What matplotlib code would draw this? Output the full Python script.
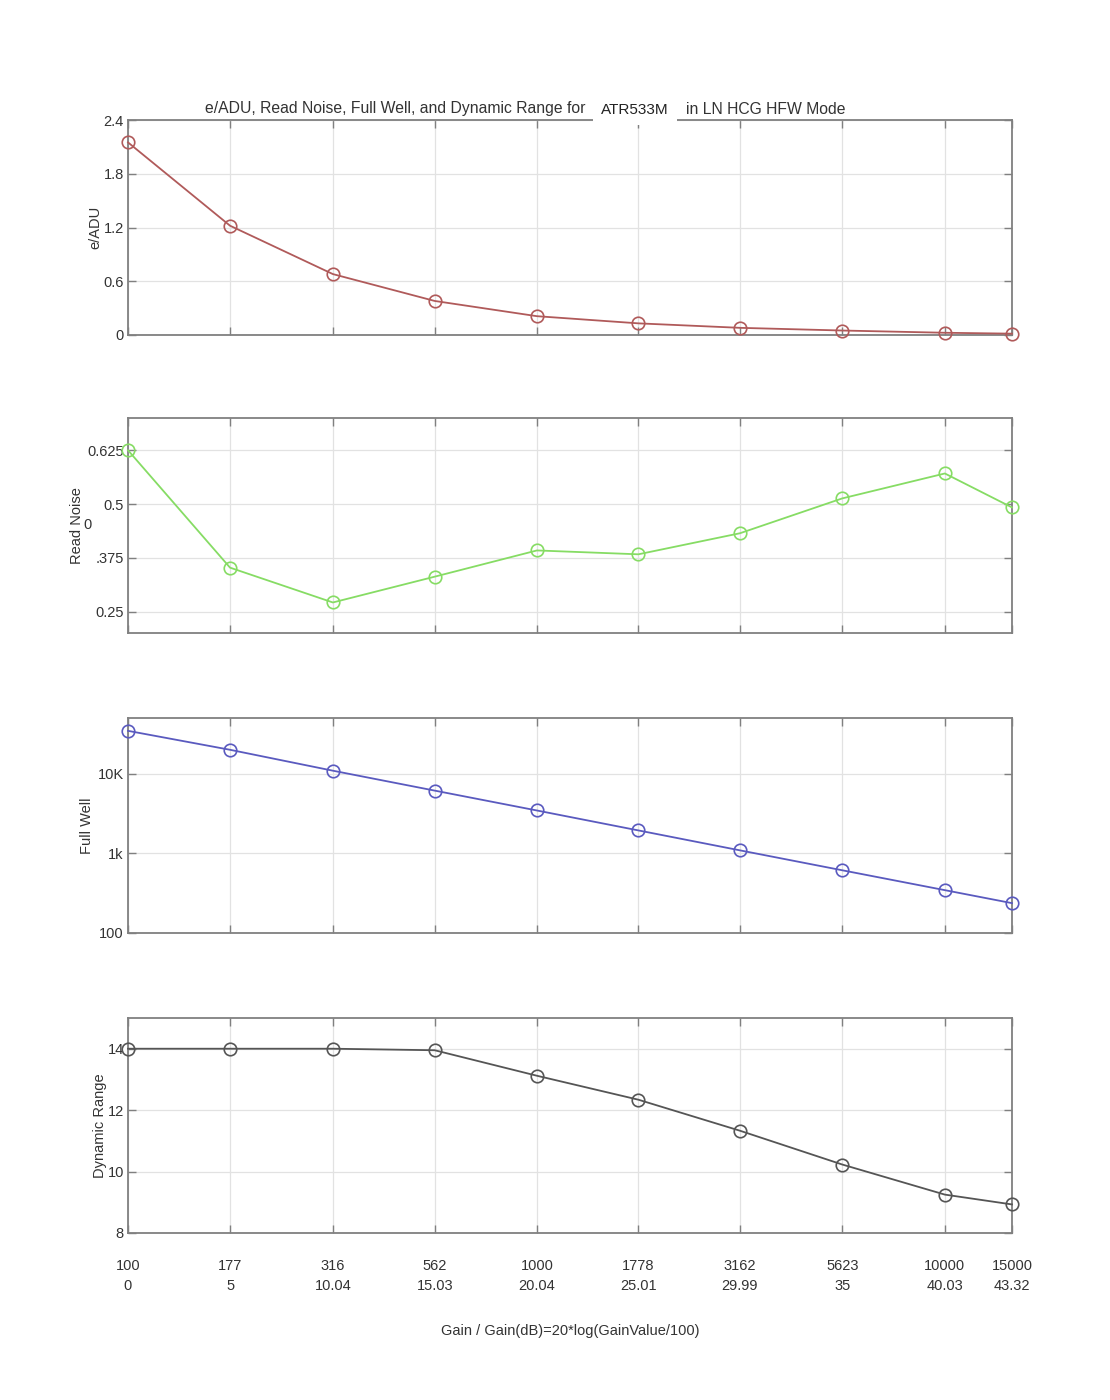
import matplotlib
matplotlib.use("Agg")
import matplotlib.pyplot as plt
from matplotlib.ticker import FixedLocator, NullLocator

plt.rcParams['font.family'] = ['Liberation Sans', 'DejaVu Sans']

gain_values = ["100", "177", "316", "562", "1000", "1778", "3162", "5623", "10000", "15000"]
gain_db = [0, 5, 10.04, 15.03, 20.04, 25.01, 29.99, 35, 40.03, 43.32]
gain_db_labels = ["0", "5", "10.04", "15.03", "20.04", "25.01", "29.99", "35", "40.03", "43.32"]

e_per_adu = [2.15, 1.22, 0.68, 0.38, 0.21, 0.13, 0.08, 0.05, 0.025, 0.015]
read_noise = [0.625, 0.352, 0.271, 0.331, 0.392, 0.383, 0.432, 0.513, 0.571, 0.492]
full_well = [34500, 19950, 10900, 6130, 3450, 1940, 1090, 613, 345, 237]
dynamic_range = [14.0, 14.0, 14.0, 13.95, 13.12, 12.34, 11.33, 10.23, 9.25, 8.93]

panels = [
    dict(y=e_per_adu, color="#b05a5a", label="e/ADU", ylim=(0, 2.4),
         ticks=[0, 0.6, 1.2, 1.8, 2.4], ticklabels=["0", "0.6", "1.2", "1.8", "2.4"],
         log=False, top=120, lx=-0.029),
    dict(y=read_noise, color="#86dc64", label="Read Noise", ylim=(0.2, 0.7),
         ticks=[0.25, 0.375, 0.5, 0.625], ticklabels=["0.25", ".375", "0.5", "0.625"],
         log=False, top=418, lx=-0.050),
    dict(y=full_well, color="#5a5abf", label="Full Well", ylim=(100, 50000),
         ticks=[100, 1000, 10000], ticklabels=["100", "1k", "10K"],
         log=True, top=718, lx=-0.038),
    dict(y=dynamic_range, color="#555555", label="Dynamic Range", ylim=(8, 15),
         ticks=[8, 10, 12, 14], ticklabels=["8", "10", "12", "14"],
         log=False, top=1018, lx=-0.024),
]

W, H = 1110, 1400
fig = plt.figure(figsize=(W / 100, H / 100), dpi=100)
left_px, right_px, h_px = 128, 1012, 215

for i, p in enumerate(panels):
    ax = fig.add_axes([left_px / W, 1 - (p["top"] + h_px) / H, (right_px - left_px) / W, h_px / H])
    ax.plot(gain_db, p["y"], color=p["color"], lw=1.3, marker="o", ms=9,
            mfc="none", mec=p["color"], mew=1.2, clip_on=False, zorder=5)
    if p["log"]:
        ax.set_yscale("log")
    ax.set_ylim(*p["ylim"])
    ax.set_xlim(0, 43.32)
    ax.yaxis.set_major_locator(FixedLocator(p["ticks"]))
    ax.set_yticklabels(p["ticklabels"])
    ax.yaxis.set_minor_locator(NullLocator())
    ax.xaxis.set_major_locator(FixedLocator(gain_db))
    ax.xaxis.set_minor_locator(NullLocator())
    if i == 3:
        ax.set_xticklabels([f"{g}\n{d}" for g, d in zip(gain_values, gain_db_labels)],
                           linespacing=1.55)
        ax.set_xlabel("Gain / Gain(dB)=20*log(GainValue/100)", fontsize=10.5,
                      color="#333333", labelpad=22)
    else:
        ax.set_xticklabels([])
    ax.grid(True, color="#e2e2e2", lw=0.9)
    ax.set_axisbelow(True)
    ax.tick_params(direction="in", length=6, width=1.0, color="#808080",
                   top=True, right=True, labelsize=10.5, labelcolor="#333333")
    ax.tick_params(axis="x", pad=19)
    ax.tick_params(axis="y", pad=3)
    for s in ax.spines.values():
        s.set_color("#808080")
        s.set_linewidth(1.3)
    ax.set_ylabel(p["label"], fontsize=10.5, color="#333333")
    ax.yaxis.set_label_coords(p["lx"], 0.5)

# title pieces
fig.text(205 / W, 1 - 109 / H, "e/ADU, Read Noise, Full Well, and Dynamic Range for ",
         fontsize=11.3, color="#333333", ha="left", va="center")
fig.text(635 / W, 1 - 110 / H, "ATR533M", fontsize=11, color="#222222",
         ha="center", va="center", family=["Liberation Sans Narrow", "Liberation Sans"],
         bbox=dict(facecolor="white", edgecolor="none", pad=6), zorder=10)
fig.text(686 / W, 1 - 109 / H, "in LN HCG HFW Mode",
         fontsize=11.3, color="#333333", ha="left", va="center")

# stray label artifact in the read-noise panel
fig.text(88 / W, 1 - 525 / H, "0", fontsize=10.5, color="#333333", ha="center", va="center")

fig.savefig("out.png", dpi=100, facecolor="white")
